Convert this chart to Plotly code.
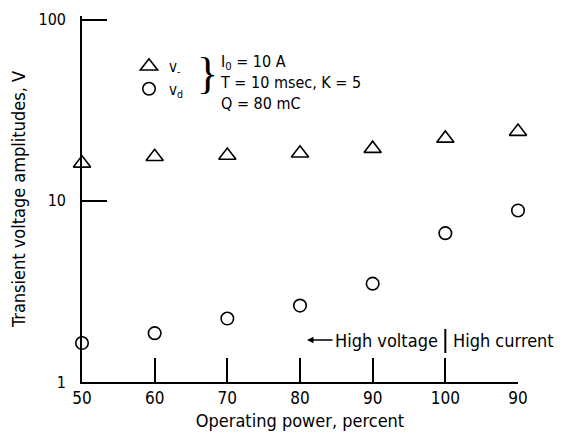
import plotly.graph_objects as go

# Data
categories = ["50", "60", "70", "80", "90", "100", "90"]
v_minus = [16.1, 17.5, 17.8, 18.3, 19.4, 22.1, 24.1]
v_d = [1.64, 1.86, 2.24, 2.64, 3.49, 6.63, 8.85]
y_ticks = [1, 10, 100]

FONT = "DejaVu Sans Condensed, Liberation Sans Narrow, Arial Narrow, sans-serif"
xpos = list(range(len(categories)))

# plot area in reference pixels: x 82..518, y 20 (=100) .. 382 (=1)
TOPR = 2.02
H = 366
W = 436


def px(xr):
    return (xr - 82) / W


def py(yr):
    return (382 - yr) / H


fig = go.Figure()
fig.add_trace(go.Scatter(
    x=xpos, y=v_minus, mode="markers", name="v<sub>-</sub>",
    marker=dict(symbol="triangle-up-open", size=15, color="black", line=dict(width=1.6, color="black")),
    cliponaxis=False,
))
fig.add_trace(go.Scatter(
    x=xpos, y=v_d, mode="markers", name="v<sub>d</sub>",
    marker=dict(symbol="circle-open", size=12.5, color="black", line=dict(width=1.6, color="black")),
    cliponaxis=False,
))

fig.update_layout(
    width=558, height=431,
    margin=dict(l=74, r=48, t=8, b=57, autoexpand=False),
    paper_bgcolor="white", plot_bgcolor="white",
    font=dict(family=FONT, size=16, color="black"),
    showlegend=True,
    legend=dict(
        x=px(129), y=py(50), xanchor="left", yanchor="top",
        bgcolor="rgba(0,0,0,0)", borderwidth=0,
        font=dict(family=FONT, size=15, color="black"),
        itemwidth=30,
    ),
    xaxis=dict(
        range=[0, 6], tickmode="array", tickvals=xpos, ticktext=categories,
        showline=True, linecolor="black", linewidth=1.6,
        ticks="inside", ticklen=24, tickwidth=1.6, tickcolor="black",
        showgrid=False, zeroline=False, automargin=False,
        title=dict(text="Operating power, percent", standoff=7, font=dict(size=18)),
        tickfont=dict(size=17),
    ),
    yaxis=dict(
        type="log", range=[0, TOPR], tickmode="array", tickvals=y_ticks,
        ticktext=[str(t) for t in y_ticks],
        showline=True, linecolor="black", linewidth=1.6,
        ticks="inside", ticklen=25, tickwidth=1.6, tickcolor="black",
        showgrid=False, zeroline=False, ticklabelstandoff=11, automargin=False,
        title=dict(text="Transient voltage amplitudes, V", standoff=10, font=dict(size=18)),
        tickfont=dict(size=16),
    ),
)

# Brace and parameter text
fig.add_annotation(
    xref="paper", yref="paper", x=px(207), y=py(74),
    text="}", showarrow=False, font=dict(family="Liberation Serif, DejaVu Serif, serif", size=44, color="black"),
    xanchor="center", yanchor="middle",
)
fig.add_annotation(
    xref="paper", yref="paper", x=px(218), y=py(50),
    text="I<sub>0</sub> = 10 A<br>T = 10 msec, K = 5<br>Q = 80 mC",
    showarrow=False, align="left", xanchor="left", yanchor="top",
    font=dict(family=FONT, size=16, color="black"),
)

# High voltage / High current annotation
ylab = py(340)
fig.add_annotation(
    xref="x", yref="paper", x=5, y=ylab, xshift=-5,
    text="High voltage", showarrow=False, xanchor="right", yanchor="middle",
    font=dict(family=FONT, size=18, color="black"),
)
fig.add_annotation(
    xref="x", yref="paper", x=5, y=ylab, xshift=6,
    text="High current", showarrow=False, xanchor="left", yanchor="middle",
    font=dict(family=FONT, size=18, color="black"),
)
fig.add_annotation(
    xref="paper", yref="paper", x=px(307), y=ylab,
    ax=27, ay=0, axref="pixel", ayref="pixel",
    text="", showarrow=True, arrowhead=2, arrowsize=1, arrowwidth=1.3, arrowcolor="black",
)
fig.add_shape(
    type="line", xref="x", yref="paper", x0=5, x1=5,
    y0=py(353), y1=py(329),
    line=dict(color="black", width=2),
)

fig.write_html("out.html")
